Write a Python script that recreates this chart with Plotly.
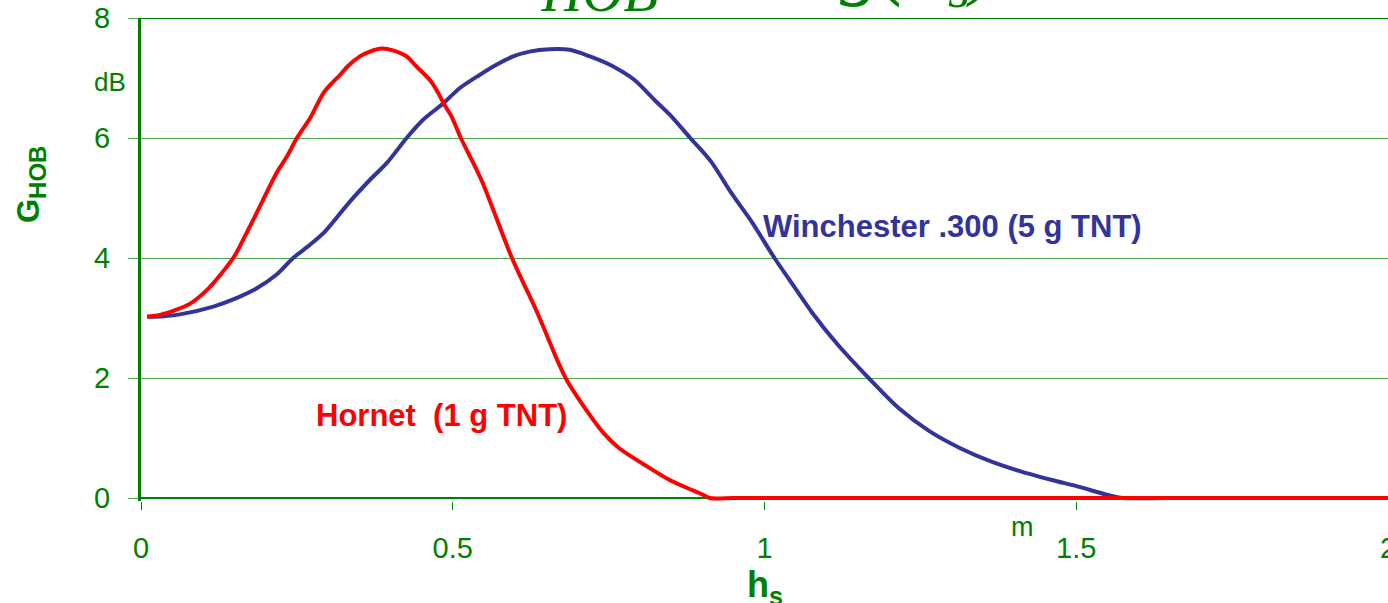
import plotly.graph_objects as go

# Hornet (1 g TNT)
hornet_h = [0.01, 0.030, 0.052, 0.079, 0.108, 0.129, 0.151, 0.169, 0.185, 0.201, 0.217, 0.234,
            0.25, 0.271, 0.292, 0.303, 0.319, 0.332, 0.351, 0.367, 0.386, 0.404, 0.426, 0.442,
            0.463, 0.474, 0.487, 0.498, 0.513, 0.546, 0.595, 0.636, 0.681, 0.718, 0.742, 0.767,
            0.808, 0.848, 0.902, 0.912, 0.95, 1.0, 1.2, 1.5, 1.8, 2.0]
hornet_g = [3.02, 3.05, 3.12, 3.24, 3.49, 3.74, 4.05, 4.41, 4.74, 5.08, 5.41, 5.69,
            6.0, 6.33, 6.74, 6.88, 7.05, 7.20, 7.36, 7.44, 7.49, 7.46, 7.36, 7.19,
            6.97, 6.8, 6.55, 6.36, 6.0, 5.3, 4.0, 3.08, 2.0, 1.41, 1.08, 0.83,
            0.55, 0.30, 0.05, 0.0, 0.0, 0.0, 0.0, 0.0, 0.0, 0.0]

# Winchester .300 (5 g TNT)
win_h = [0.01, 0.036, 0.0625, 0.116, 0.153, 0.185, 0.217, 0.244, 0.271, 0.295, 0.335,
         0.367, 0.394, 0.426, 0.452, 0.485, 0.511, 0.543, 0.57, 0.597, 0.623, 0.655, 0.6875,
         0.72, 0.752, 0.791, 0.824, 0.848, 0.881, 0.914, 0.947, 0.979, 1.016, 1.045, 1.077,
         1.118, 1.167, 1.216, 1.265, 1.314, 1.363, 1.412, 1.461, 1.503, 1.551, 1.575, 1.65,
         1.8, 2.0]
win_g = [3.02, 3.03, 3.06, 3.19, 3.33, 3.49, 3.72, 4.0, 4.22, 4.44, 4.94,
         5.30, 5.58, 6.0, 6.3, 6.58, 6.83, 7.05, 7.22, 7.36, 7.44, 7.48, 7.47,
         7.36, 7.22, 6.97, 6.63, 6.39, 6.0, 5.61, 5.08, 4.61, 4.0, 3.56, 3.08,
         2.55, 2.0, 1.49, 1.11, 0.83, 0.61, 0.44, 0.30, 0.19, 0.05, 0.0, 0.0,
         0.0, 0.0]

x_ticks = [0, 0.5, 1, 1.5, 2]
x_tick_labels = ["0", "0.5", "1", "1.5", "2"]
y_ticks = [0, 2, 4, 6, 8]
y_tick_labels = ["0", "2", "4", "6", "8"]

GREEN = "#008000"
GRID = "#4CA64C"
RED = "#FF0000"
BLUE = "#333399"
SANS = "Liberation Sans, Arial, sans-serif"
SERIF = "Liberation Serif, Times New Roman, serif"

fig = go.Figure()
fig.add_trace(go.Scatter(x=win_h, y=win_g, mode="lines",
                         line=dict(color=BLUE, width=4, shape="spline", smoothing=0.8),
                         name="Winchester .300 (5 g TNT)"))
fig.add_trace(go.Scatter(x=hornet_h, y=hornet_g, mode="lines",
                         line=dict(color=RED, width=4, shape="spline", smoothing=0.8),
                         name="Hornet (1 g TNT)"))

fig.update_layout(
    width=1388, height=603,
    margin=dict(l=141, r=0, t=18, b=102, autoexpand=False),
    paper_bgcolor="white", plot_bgcolor="white",
    showlegend=False,
    xaxis=dict(range=[0, 2], tickvals=x_ticks, ticktext=x_tick_labels,
               showgrid=False, zeroline=False, showline=False, automargin=False,
               ticks="outside", ticklen=8, tickcolor=GREEN, tickwidth=1,
               tickfont=dict(family=SANS, size=29, color=GREEN),
               ticklabelstandoff=13, ticklabeloverflow="allow"),
    yaxis=dict(range=[-0.05, 8], tickvals=y_ticks, ticktext=y_tick_labels,
               showgrid=True, gridcolor=GRID, gridwidth=1, automargin=False,
               zeroline=True, zerolinecolor=GREEN, zerolinewidth=2,
               showline=True, linecolor=GREEN, linewidth=3,
               ticks="outside", ticklen=10, tickcolor=GRID, tickwidth=1,
               tickfont=dict(family=SANS, size=29, color=GREEN),
               ticklabelstandoff=12, ticklabeloverflow="allow"),
)

fig.add_shape(type="line", xref="paper", yref="y", x0=0, x1=1, y0=8, y1=8,
              line=dict(color=GREEN, width=2))

anns = [
    dict(text="<b>Hornet\u00a0\u00a0(1 g TNT)</b>", xref="x", yref="y", x=0.482, y=1.367,
         font=dict(family=SANS, size=31, color=RED)),
    dict(text="<b>Winchester .300 (5 g TNT)</b>", xref="x", yref="y", x=1.301, y=4.53,
         font=dict(family=SANS, size=31, color=BLUE)),
    dict(text="dB", xref="paper", yref="paper", x=-0.0249, y=0.8675,
         font=dict(family=SANS, size=26, color=GREEN)),
    dict(text="m", xref="paper", yref="paper", x=0.7065, y=-0.0538,
         font=dict(family=SANS, size=27, color=GREEN)),
    dict(text="<b>G<sub><span style='font-size:24px'>HOB</span></sub></b>", xref="paper", yref="paper",
         x=-0.0878, y=0.6553, textangle=-90,
         font=dict(family=SANS, size=31, color=GREEN)),
    dict(text="<b>h<sub>s</sub></b>", xref="paper", yref="paper", x=0.5004, y=-0.1263,
         yanchor="top", font=dict(family=SANS, size=36, color=GREEN)),
    dict(text="<i>G<sub>HOB</sub></i>", xref="paper", yref="paper", x=0.4162, y=1,
         xanchor="right", yanchor="bottom", yshift=-7,
         font=dict(family=SERIF, size=81, color=GREEN)),
    dict(text="<i>= g(h<sub>s</sub>)</i>", xref="paper", yref="paper", x=0.4988, y=1,
         xanchor="left", yanchor="bottom", yshift=-3,
         font=dict(family=SERIF, size=81, color=GREEN)),
]
for a in anns:
    a.setdefault("showarrow", False)
    a.setdefault("xanchor", "center")
    a.setdefault("yanchor", "middle")
    fig.add_annotation(**a)

fig.write_html("out.html", config={"displayModeBar": False},
               post_script="document.body.style.margin='0px';")
